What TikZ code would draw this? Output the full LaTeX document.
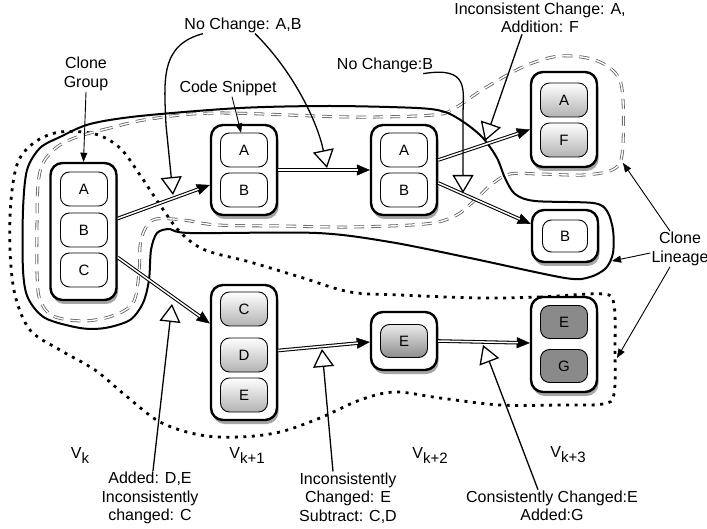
\documentclass[tikz,border=0pt]{standalone}
\usepackage{fontspec}
\setmainfont{Liberation Sans}
\usetikzlibrary{arrows.meta,shadows}
\definecolor{darkg}{RGB}{138,138,138}
\definecolor{lineg}{RGB}{95,95,95}
\begin{document}
\begin{tikzpicture}[x=1pt,y=-1pt,
  ver/.style={draw=black, line width=2.4pt, rounded corners=12pt, fill=white, minimum width=66pt, inner sep=0pt,
    drop shadow={shadow xshift=1.5pt, shadow yshift=-4pt, opacity=0.35, fill=black}},
  snip/.style={draw=black, line width=0.9pt, rounded corners=9pt, minimum width=47pt, minimum height=34pt, inner sep=0pt, fill=white, font=\fontsize{15}{15}\selectfont},
  lsnip/.style={snip, top color=white, bottom color=black!30},
  msnip/.style={snip, top color=black!8, bottom color=black!45},
  dsnip/.style={snip, fill=darkg},
  lbl/.style={font=\fontsize{16}{18.5}\selectfont, align=center, inner sep=1pt},
  dbl/.style={line width=3.6pt, -{Triangle[length=13pt,width=11pt,line width=0.4pt]},
    postaction={draw=white, line width=1.5pt, shorten >=12pt, -}},
  ann/.style={line width=1.3pt, -{Triangle[fill=white,length=18pt,width=21pt,line width=1.3pt]}},
  thinarr/.style={line width=0.9pt, -{Triangle[length=9pt,width=7pt,line width=0.4pt]}},
  dotline/.style={line width=2.8pt, dash pattern=on 3pt off 5.5pt},
  dashline/.style={draw=lineg, double=white, line width=0.8pt, double distance=1.4pt, dash pattern=on 10pt off 7pt},
  solidline/.style={line width=2pt}
]
\useasboundingbox (0,0) rectangle (707,529);

% contours
\draw[dotline] plot[smooth cycle, tension=0.55] coordinates {
 (603,294) (540,297) (480,298) (400,295) (350,292) (300,277) (250,262) (205,250) (180,232) (160,205)
 (140,175) (120,148) (95,134) (60,132) (35,142) (18,162) (11,200) (10,250) (15,295) (30,330)
 (60,350) (95,370) (125,395) (160,422) (200,435) (240,437) (280,432) (320,418) (360,400) (395,392)
 (440,398) (500,405) (560,405) (603,404) (614,394) (615,350) (614,305)};

\draw[dashline] plot[smooth cycle, tension=0.55] coordinates {
 (150,119) (110,128) (77,137) (57,147) (43,163) (38,185) (37,223) (37,273) (40,300) (53,316)
 (83,321) (112,316) (133,303) (139,273) (141,240) (153,220) (183,220) (217,225) (283,226) (350,227)
 (425,224) (455,216) (475,200) (492,184) (510,174) (540,174) (583,175) (612,170) (622,155) (623,100)
 (617,75) (595,60) (560,56) (525,66) (485,88) (455,108) (433,115) (350,117) (217,113)};

\draw[solidline] plot[smooth cycle, tension=0.5] coordinates {
 (240,108) (330,106) (417,108) (445,112) (465,123) (483,138) (497,158) (505,178) (515,194) (535,201)
 (593,203) (607,211) (613,230) (613,253) (606,268) (590,277) (565,278) (470,258) (390,242) (317,233)
 (190,233) (170,229) (157,233) (151,250) (149,280) (143,303) (130,320) (105,328) (80,328) (45,318)
 (28,298) (23,270) (23,210) (27,170) (40,148) (60,137) (90,124) (140,116)};

% version boxes
\node[ver, minimum height=137pt] (vk) at (83.5,231.5) {};
\node[snip] (vkA) at (84,189) {A};
\node[snip] (vkB) at (84,230) {B};
\node[snip] (vkC) at (84,270) {C};

\node[ver, minimum height=90pt] (v1) at (244,170) {};
\node[snip] (v1A) at (244,150) {A};
\node[snip] (v1B) at (244,190) {B};

\node[ver, minimum height=90pt] (v2) at (404,170) {};
\node[snip] (v2A) at (404,150) {A};
\node[snip] (v2B) at (404,190) {B};

\node[ver, minimum height=95pt] (af) at (564,119.5) {};
\node[lsnip] (afA) at (564,100) {A};
\node[lsnip] (afF) at (564,140) {F};

\node[ver, minimum height=52pt] (bb) at (565,236) {};
\node[snip, minimum width=45pt, minimum height=32pt] (bbB) at (565,236) {B};

\node[ver, minimum height=135pt] (cde) at (244,352.5) {};
\node[lsnip] (cdeC) at (244,309) {C};
\node[lsnip] (cdeD) at (244,355) {D};
\node[lsnip] (cdeE) at (244,395) {E};

\node[ver, minimum height=58pt] (e2) at (404,341) {};
\node[msnip, minimum height=33pt] (e2E) at (404,341) {E};

\node[ver, minimum height=95pt] (eg) at (564,344.5) {};
\node[dsnip, minimum height=33pt] (egE) at (564,322) {E};
\node[dsnip, minimum height=33pt] (egG) at (564,366) {G};

% evolution connectors
\draw[dbl] ([yshift=13pt]vk.east) -- ([yshift=-15pt]v1.west);
\draw[dbl] ([yshift=-26pt]vk.east) -- ([yshift=29pt]cde.west);
\draw[dbl] (v1.east) -- (v2.west);
\draw[dbl] ([yshift=10pt]v2.east) -- ([yshift=-10pt]af.west);
\draw[dbl] ([yshift=-13pt]v2.east) -- ([yshift=12pt]bb.west);
\draw[dbl] ([yshift=2pt]cde.east) -- ([yshift=-1pt]e2.west);
\draw[dbl] (e2.east) -- ([yshift=1.5pt]eg.west);

% labels
\node[lbl] (nc) at (243,25) {No Change: A,B};
\node[lbl] (cg) at (86,74) {Clone\\Group};
\node[lbl] (cs) at (228,88) {Code Snippet};
\node[lbl] (ncb) at (385,65) {No Change:B};
\node[lbl] (inc) at (540,18) {Inconsistent Change: A,\\Addition: F};
\node[lbl] (cl) at (680,249) {Clone\\Lineage};
\node[lbl] (added) at (150,498) {Added: D,E\\Inconsistently\\changed: C};
\node[lbl] (incon) at (348,498) {Inconsistently\\Changed: E\\Subtract: C,D};
\node[lbl] (cons) at (552,506) {Consistently Changed:E\\Added:G};

\node[lbl] (lk) at (80,455) {V\raisebox{-5pt}{\fontsize{15}{15}\selectfont k}};
\node[lbl] (lk1) at (247,455) {V\raisebox{-5pt}{\fontsize{15}{15}\selectfont k+1}};
\node[lbl] (lk2) at (430,455) {V\raisebox{-5pt}{\fontsize{15}{15}\selectfont k+2}};
\node[lbl] (lk3) at (568,455) {V\raisebox{-5pt}{\fontsize{15}{15}\selectfont k+3}};

% annotation tips
\coordinate (t1) at (173,195);
\coordinate (t2) at (327,168);
\coordinate (t3) at (463,193);
\coordinate (t4) at (485,141);
\coordinate (t5) at (172,304);
\coordinate (t6) at (322,349);
\coordinate (t7) at (483,345);
\coordinate (c1) at (623,163);
\coordinate (c2) at (612,261);
\coordinate (c3) at (617,358);

\draw[ann] ([xshift=-40pt]nc.south) .. controls (160,45) and (164,80) .. (166,125) -- (t1);
\draw[ann] ([xshift=12pt]nc.south) .. controls (292,70) and (317,120) .. (t2);
\draw[ann] ([xshift=-11pt]ncb.south east) .. controls (470,66) and (463,90) .. (463,115) -- (t3);
\draw[ann] ([xshift=-18pt]inc.south) -- (t4);
\draw[ann] ([xshift=3pt]added.north) -- (t5);
\draw[ann] ([xshift=-15pt]incon.north) -- (t6);
\draw[ann] ([xshift=-14pt]cons.north) -- (t7);

\draw[thinarr] (cg.south) -- (vk.north);
\draw[thinarr] ([xshift=4pt]cs.south) -- ([xshift=-3pt]v1A.north);
\draw[thinarr] ([xshift=-10pt]cl.north) -- (c1);
\draw[thinarr] ([yshift=-4pt]cl.west) -- (c2);
\draw[thinarr] ([xshift=-10pt]cl.south) -- (c3);
\end{tikzpicture}
\end{document}
